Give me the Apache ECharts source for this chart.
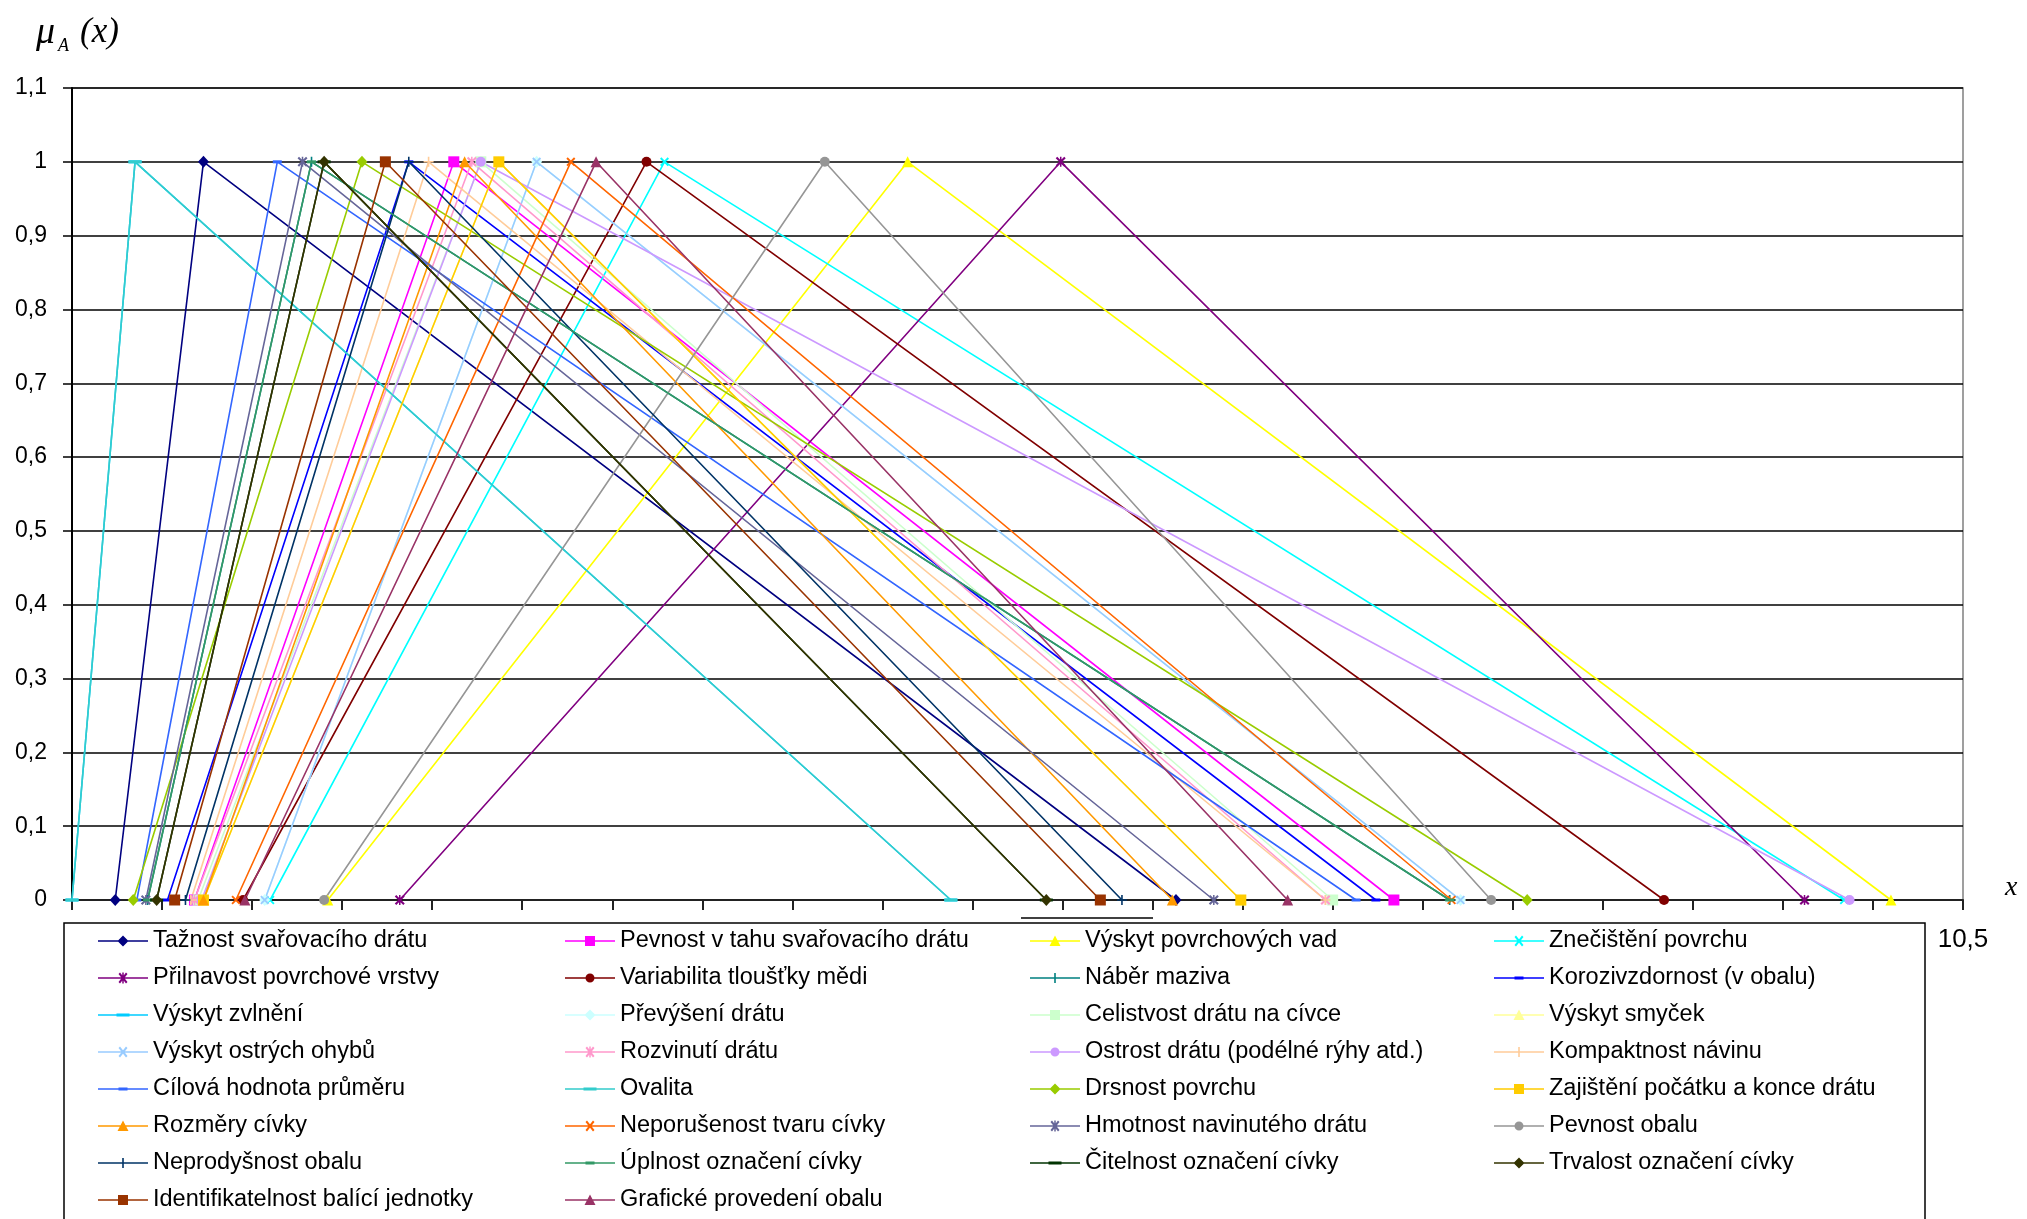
<!DOCTYPE html>
<html>
<head>
<meta charset="utf-8">
<script src="https://cdn.jsdelivr.net/npm/echarts@6/dist/echarts.min.js"></script>
<style>
  html, body { margin: 0; padding: 0; background: #fff; }
  #chart { width: 2027px; height: 1219px; }
</style>
</head>
<body>
<div id="chart"></div>
<script>
// Triangular fuzzy numbers: membership rises from leftFoot to 1 at peakAt, falls back to 0 at rightFoot
const seriesNames = [
  'Tažnost svařovacího drátu', 'Pevnost v tahu svařovacího drátu', 'Výskyt povrchových vad', 'Znečištění povrchu',
  'Přilnavost povrchové vrstvy', 'Variabilita tloušťky mědi', 'Náběr maziva', 'Korozivzdornost (v obalu)',
  'Výskyt zvlnění', 'Převýšení drátu', 'Celistvost drátu na cívce', 'Výskyt smyček',
  'Výskyt ostrých ohybů', 'Rozvinutí drátu', 'Ostrost drátu (podélné rýhy atd.)', 'Kompaktnost návinu',
  'Cílová hodnota průměru', 'Ovalita', 'Drsnost povrchu', 'Zajištění počátku a konce drátu',
  'Rozměry cívky', 'Neporušenost tvaru cívky', 'Hmotnost navinutého drátu', 'Pevnost obalu',
  'Neprodyšnost obalu', 'Úplnost označení cívky', 'Čitelnost označení cívky', 'Trvalost označení cívky',
  'Identifikatelnost balící jednotky', 'Grafické provedení obalu'
];

const leftFoot = [
  0.24, 0.68, 1.42, 1.10,
  1.82, 0.95, 0.42, 0.53,
  0.00, 1.07, 0.70, 0.73,
  1.07, 0.68, 0.72, 0.66,
  0.36, 0.00, 0.34, 0.73,
  0.73, 0.91, 0.41, 1.40,
  0.63, 0.42, 0.47, 0.47,
  0.57, 0.96
];

const peakAt = [
  0.73, 2.12, 4.64, 3.29,
  5.49, 3.19, 1.33, 1.87,
  0.35, 2.58, 2.27, 2.37,
  2.58, 2.22, 2.27, 1.98,
  1.14, 0.35, 1.61, 2.37,
  2.18, 2.77, 1.28, 4.18,
  1.87, 1.33, 1.40, 1.40,
  1.74, 2.91
];

const rightFoot = [
  6.13, 7.34, 10.10, 9.84,
  9.62, 8.84, 7.65, 7.24,
  4.88, 7.71, 7.00, 6.49,
  7.71, 6.96, 9.87, 6.96,
  7.13, 4.88, 8.08, 6.49,
  6.11, 7.66, 6.34, 7.88,
  5.83, 7.65, 5.41, 5.41,
  5.71, 6.75
];

// membership degree at left foot, peak, right foot
const membership = [0, 1, 0];

const seriesColors = [
  '#000080', '#FF00FF', '#FFFF00', '#00FFFF',
  '#800080', '#800000', '#008080', '#0000FF',
  '#00CCFF', '#CCFFFF', '#CCFFCC', '#FFFF99',
  '#99CCFF', '#FF99CC', '#CC99FF', '#FFCC99',
  '#3366FF', '#33CCCC', '#99CC00', '#FFCC00',
  '#FF9900', '#FF6600', '#666699', '#969696',
  '#003366', '#339966', '#003300', '#333300',
  '#993300', '#993366'
];

const markerKinds = [
  'diamond', 'square', 'triangle', 'x',
  'star', 'circle', 'plus', 'dash',
  'longdash', 'diamond', 'square', 'triangle',
  'x', 'star', 'circle', 'plus',
  'dash', 'longdash', 'diamond', 'square',
  'triangle', 'x', 'star', 'circle',
  'plus', 'dash', 'longdash', 'diamond',
  'square', 'triangle'
];

// marker shapes on the plot
const X_PATH = 'M0,1.5L1.5,0L10,8.5L8.5,10Z M8.5,0L10,1.5L1.5,10L0,8.5Z';
const MARKERS = {
  diamond:  { symbol: 'diamond', size: [11, 12] },
  square:   { symbol: 'rect', size: 11 },
  triangle: { symbol: 'triangle', size: 11 },
  circle:   { symbol: 'circle', size: 10 },
  x:        { symbol: 'path://' + X_PATH, size: 9 },
  star:     { symbol: 'path://' + X_PATH + ' M4.25,0h1.5v10h-1.5Z', size: 10 },
  plus:     { symbol: 'path://M4.2,0h1.6v10h-1.6Z M0,4.2h10v1.6h-10Z', size: 10 },
  dash:     { symbol: 'rect', size: [9, 3] },
  longdash: { symbol: 'rect', size: [13, 3] }
};

// legend keys: a short line with the marker in the middle (50 x 12 box)
const KEY_BASE = 'path://M0,0M50,12M0,5.3h50v1.4h-50Z ';
const KEY_MARKS = {
  diamond:  'M25,0.5L30.5,6L25,11.5L19.5,6Z',
  square:   'M20,1h10v10h-10Z',
  triangle: 'M25,0.5L30.5,11L19.5,11Z',
  circle:   'M20.5,6A4.5,4.5 0 1 1 29.5,6A4.5,4.5 0 1 1 20.5,6Z',
  x:        'M20.5,2L22,0.5L29.5,10L28,11.5Z M28,0.5L29.5,2L22,11.5L20.5,10Z',
  star:     'M20.5,2L22,0.5L29.5,10L28,11.5Z M28,0.5L29.5,2L22,11.5L20.5,10Z M24.25,0.5h1.5v11h-1.5Z',
  plus:     'M24.2,1h1.6v10h-1.6Z M20,5.2h10v1.6h-10Z',
  dash:     'M20.5,4.5h9v3h-9Z',
  longdash: 'M18.5,4.5h13v3h-13Z'
};

const series = seriesNames.map((name, i) => ({
  name: name,
  type: 'line',
  data: [
    [leftFoot[i], membership[0]],
    [peakAt[i], membership[1]],
    [rightFoot[i], membership[2]]
  ],
  symbol: MARKERS[markerKinds[i]].symbol,
  symbolSize: MARKERS[markerKinds[i]].size,
  showSymbol: true,
  lineStyle: { color: seriesColors[i], width: 1.6 },
  itemStyle: { color: seriesColors[i], borderWidth: 0 },
  emphasis: { disabled: true },
  silent: true
}));

// four legend columns, filled row by row
const columnLeft = [98, 565, 1030, 1494];
const legends = columnLeft.map((left, c) => ({
  orient: 'vertical',
  left: left,
  top: 929,
  padding: 0,
  itemGap: 13,
  itemWidth: 50,
  itemHeight: 12,
  selectedMode: false,
  z: 5,
  itemStyle: { borderWidth: 0 },
  textStyle: { fontFamily: 'Liberation Sans', fontSize: 23.5, lineHeight: 24, color: '#000' },
  data: seriesNames
    .map((name, i) => ({ name: name, icon: KEY_BASE + KEY_MARKS[markerKinds[i]], i: i }))
    .filter(d => d.i % 4 === c)
    .map(d => ({ name: d.name, icon: d.icon }))
}));

const chart = echarts.init(document.getElementById('chart'), null, { renderer: 'canvas' });
chart.setOption({
  animation: false,
  backgroundColor: '#fff',
  tooltip: { show: false },
  grid: {
    left: 72, right: 64, top: 88, bottom: 319,
    show: true, borderColor: '#808080', borderWidth: 1.5, backgroundColor: '#fff',
    outerBoundsMode: 'none'
  },
  xAxis: {
    type: 'value', min: 0, max: 10.5, interval: 0.5,
    axisLine: { show: true, onZero: false, lineStyle: { color: '#222', width: 2 } },
    axisTick: { show: true, length: 10, lineStyle: { color: '#222', width: 2 } },
    axisLabel: {
      show: true, showMaxLabel: true, margin: 27,
      fontFamily: 'Liberation Sans', fontSize: 26, color: '#000',
      formatter: v => (Math.abs(v - 10.5) < 1e-9 ? '10,5' : '')
    },
    splitLine: { show: false }
  },
  yAxis: {
    type: 'value', min: 0, max: 1.1, interval: 0.1,
    axisLine: { show: true, lineStyle: { color: '#000', width: 2 } },
    axisTick: { show: true, length: 9, lineStyle: { color: '#000', width: 1.5 } },
    axisLabel: {
      margin: 25, fontFamily: 'Liberation Sans', fontSize: 23, color: '#000',
      formatter: v => String(Math.round(v * 10) / 10).replace('.', ',')
    },
    splitLine: { show: true, lineStyle: { color: '#000', width: 1.5 } }
  },
  legend: legends,
  graphic: [
    {
      type: 'rect', z: 1,
      shape: { x: 64, y: 923, width: 1861, height: 330 },
      style: { fill: '#fff', stroke: '#000', lineWidth: 1.5 }
    },
    {
      type: 'line', z: 1,
      shape: { x1: 1021, y1: 918, x2: 1153, y2: 918 },
      style: { stroke: '#000', lineWidth: 1.5 }
    },
    {
      type: 'text', z: 6, x: 36, y: 33,
      style: { text: 'μ', fontFamily: 'Liberation Serif', fontStyle: 'italic', fontSize: 38, fill: '#000', align: 'left', verticalAlign: 'middle' }
    },
    {
      type: 'text', z: 6, x: 58, y: 46,
      style: { text: 'A', fontFamily: 'Liberation Serif', fontStyle: 'italic', fontSize: 18, fill: '#000', align: 'left', verticalAlign: 'middle' }
    },
    {
      type: 'text', z: 6, x: 80, y: 33,
      style: { text: '(x)', fontFamily: 'Liberation Serif', fontStyle: 'italic', fontSize: 35, fill: '#000', align: 'left', verticalAlign: 'middle' }
    },
    {
      type: 'text', z: 6, x: 2005, y: 888,
      style: { text: 'x', fontFamily: 'Liberation Serif', fontStyle: 'italic', fontSize: 28, fill: '#000', align: 'left', verticalAlign: 'middle' }
    }
  ],
  series: series
});
</script>
</body>
</html>
